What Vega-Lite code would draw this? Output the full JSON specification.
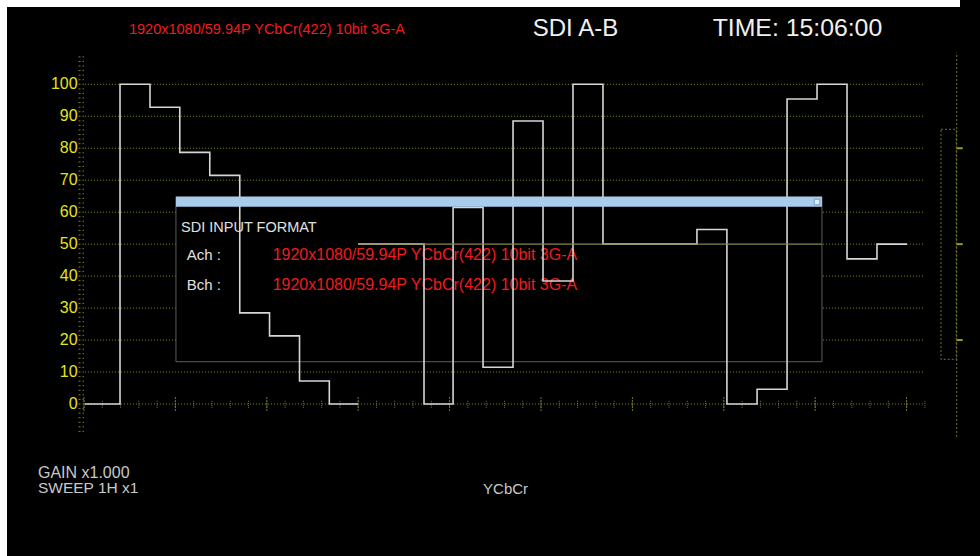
{
  "$schema": "https://vega.github.io/schema/vega-lite/v6.json",
  "width": 973,
  "height": 549,
  "autosize": "none",
  "padding": {"left": 7, "top": 7, "right": 0, "bottom": 0},
  "background": "#ffffff",
  "config": {"view": {"fill": "#000000", "stroke": null}, "font": "Liberation Sans"},
  "datasets": {
    "one": [{}],
    "grid": [0, 10, 20, 30, 40, 50, 60, 70, 80, 90, 100],
    "mv": [-60,-50,-40,-30,-20,-10,0,10,20,30,40,50,60,70,80,90,100,110,120,130,140,150,160,170,180,190,200,210,220,230,240,250,260,270,280,290,300,310,320,330,340,350,360,370,380,390,400,410,420,430,440,450,460,470,480,490,500,510,520,530,540,550,560,570,580,590,600,610,620,630,640,650,660,670,680,690,700,710,720,730,740,750,760],
    "xminor": [0,1,2,3,4,5,6,7,8,9,10,11,12,13,14,15,16,17,18,19,20,21,22,23,24,25,26,27,28,29,30,31,32,33,34,35,36,37,38,39,40,41,42,43,44,45,46],
    "xmajor": [0,5,10,15,20,25,30,35,40,45],
    "rticks": [20, 50, 80],
    "trace": [
      {"u": 0.05, "v": 0, "seg": "Y"},
      {"u": 1.97, "v": 100, "seg": "Y"},
      {"u": 3.61, "v": 92.8, "seg": "Y"},
      {"u": 5.24, "v": 78.7, "seg": "Y"},
      {"u": 6.88, "v": 71.5, "seg": "Y"},
      {"u": 8.52, "v": 28.5, "seg": "Y"},
      {"u": 10.15, "v": 21.3, "seg": "Y"},
      {"u": 11.79, "v": 7.2, "seg": "Y"},
      {"u": 13.42, "v": 0, "seg": "Y"},
      {"u": 14.99, "v": 0, "seg": "Y"},
      {"u": 14.99, "v": 50, "seg": "CbCr"},
      {"u": 18.6, "v": 0, "seg": "CbCr"},
      {"u": 20.19, "v": 61.5, "seg": "CbCr"},
      {"u": 21.83, "v": 11.5, "seg": "CbCr"},
      {"u": 23.47, "v": 88.5, "seg": "CbCr"},
      {"u": 25.11, "v": 38.5, "seg": "CbCr"},
      {"u": 26.75, "v": 100, "seg": "CbCr"},
      {"u": 28.39, "v": 50, "seg": "CbCr"},
      {"u": 33.53, "v": 54.6, "seg": "CbCr"},
      {"u": 35.17, "v": 0, "seg": "CbCr"},
      {"u": 36.82, "v": 4.6, "seg": "CbCr"},
      {"u": 38.46, "v": 95.4, "seg": "CbCr"},
      {"u": 40.1, "v": 100, "seg": "CbCr"},
      {"u": 41.74, "v": 45.4, "seg": "CbCr"},
      {"u": 43.38, "v": 50, "seg": "CbCr"},
      {"u": 45.02, "v": 50, "seg": "CbCr"}
    ]
  },
  "layer": [
    {
      "layer": [
        {
          "data": {"name": "grid"},
          "mark": {"type": "rule", "color": "#8a8a2a", "strokeDash": [1, 2], "strokeWidth": 1},
          "encoding": {
            "y": {"field": "data", "type": "quantitative", "scale": {"domain": [-47.54, 124.18], "nice": false, "zero": false}, "axis": null},
            "x": {"datum": 0.05, "type": "quantitative", "scale": {"domain": [-4.2123, 49.0153], "nice": false, "zero": false}, "axis": null},
            "x2": {"datum": 46}
          }
        },
        {
          "data": {"name": "grid"},
          "mark": {"type": "text", "align": "right", "baseline": "middle", "fontSize": 16, "color": "#e4e41c"},
          "encoding": {
            "y": {"field": "data", "type": "quantitative", "scale": {"domain": [-47.54, 124.18], "nice": false, "zero": false}, "axis": null},
            "x": {"datum": -0.35, "type": "quantitative", "scale": {"domain": [-4.2123, 49.0153], "nice": false, "zero": false}, "axis": null},
            "text": {"field": "data", "type": "quantitative"}
          }
        },
        {
          "data": {"name": "xminor"},
          "mark": {"type": "rule", "color": "#76762c", "strokeDash": [1, 1], "strokeWidth": 1},
          "encoding": {
            "x": {"field": "data", "type": "quantitative", "scale": {"domain": [-4.2123, 49.0153], "nice": false, "zero": false}, "axis": null},
            "y": {"datum": -1.2, "type": "quantitative", "scale": {"domain": [-47.54, 124.18], "nice": false, "zero": false}, "axis": null},
            "y2": {"datum": 1.2}
          }
        },
        {
          "data": {"name": "xmajor"},
          "mark": {"type": "rule", "color": "#76762c", "strokeDash": [2, 1], "strokeWidth": 1},
          "encoding": {
            "x": {"field": "data", "type": "quantitative", "scale": {"domain": [-4.2123, 49.0153], "nice": false, "zero": false}, "axis": null},
            "y": {"datum": -2.2, "type": "quantitative", "scale": {"domain": [-47.54, 124.18], "nice": false, "zero": false}, "axis": null},
            "y2": {"datum": 2.2}
          }
        },
        {
          "data": {"name": "one"},
          "mark": {"type": "rule", "color": "#6e6e30", "strokeDash": [2, 2], "strokeWidth": 1},
          "encoding": {
            "x": {"datum": 47.74, "type": "quantitative", "scale": {"domain": [-4.2123, 49.0153], "nice": false, "zero": false}, "axis": null},
            "y": {"datum": -10.3, "type": "quantitative", "scale": {"domain": [-47.54, 124.18], "nice": false, "zero": false}, "axis": null},
            "y2": {"datum": 109.9}
          }
        },
        {
          "data": {"name": "rticks"},
          "mark": {"type": "rule", "color": "#a09a20", "strokeWidth": 2},
          "encoding": {
            "y": {"field": "data", "type": "quantitative", "scale": {"domain": [-47.54, 124.18], "nice": false, "zero": false}, "axis": null},
            "x": {"datum": 47.74, "type": "quantitative", "scale": {"domain": [-4.2123, 49.0153], "nice": false, "zero": false}, "axis": null},
            "x2": {"datum": 48.07}
          }
        },
        {
          "data": {"name": "one"},
          "mark": {"type": "rect", "fillOpacity": 0, "stroke": "#6e6e45", "strokeDash": [2, 2], "strokeWidth": 1},
          "encoding": {
            "x": {"datum": 46.88, "type": "quantitative", "scale": {"domain": [-4.2123, 49.0153], "nice": false, "zero": false}, "axis": null},
            "x2": {"datum": 47.72},
            "y": {"datum": 85.93, "type": "quantitative", "scale": {"domain": [-47.54, 124.18], "nice": false, "zero": false}, "axis": null},
            "y2": {"datum": 13.98}
          }
        },
        {
          "data": {"name": "one"},
          "mark": {"type": "rect", "fill": "#000000", "stroke": "#5c5c5c", "strokeWidth": 1},
          "encoding": {
            "x": {"datum": 5.03, "type": "quantitative", "scale": {"domain": [-4.2123, 49.0153], "nice": false, "zero": false}, "axis": null},
            "x2": {"datum": 40.37},
            "y": {"datum": 64.84, "type": "quantitative", "scale": {"domain": [-47.54, 124.18], "nice": false, "zero": false}, "axis": null},
            "y2": {"datum": 13.23}
          }
        },
        {
          "data": {"name": "one"},
          "mark": {"type": "text", "align": "left", "baseline": "middle", "fontSize": 14.5, "color": "#e0e0e0"},
          "encoding": {
            "x": {"datum": 5.31, "type": "quantitative", "scale": {"domain": [-4.2123, 49.0153], "nice": false, "zero": false}, "axis": null},
            "y": {"datum": 55.2, "type": "quantitative", "scale": {"domain": [-47.54, 124.18], "nice": false, "zero": false}, "axis": null},
            "text": {"value": "SDI INPUT FORMAT"}
          }
        },
        {
          "data": {"name": "one"},
          "mark": {"type": "text", "align": "left", "baseline": "middle", "fontSize": 15, "color": "#e0e0e0"},
          "encoding": {
            "x": {"datum": 5.62, "type": "quantitative", "scale": {"domain": [-4.2123, 49.0153], "nice": false, "zero": false}, "axis": null},
            "y": {"datum": 46.7, "type": "quantitative", "scale": {"domain": [-47.54, 124.18], "nice": false, "zero": false}, "axis": null},
            "text": {"value": "Ach :"}
          }
        },
        {
          "data": {"name": "one"},
          "mark": {"type": "text", "align": "left", "baseline": "middle", "fontSize": 15, "color": "#e0e0e0"},
          "encoding": {
            "x": {"datum": 5.62, "type": "quantitative", "scale": {"domain": [-4.2123, 49.0153], "nice": false, "zero": false}, "axis": null},
            "y": {"datum": 37.1, "type": "quantitative", "scale": {"domain": [-47.54, 124.18], "nice": false, "zero": false}, "axis": null},
            "text": {"value": "Bch :"}
          }
        },
        {
          "data": {"name": "one"},
          "mark": {"type": "text", "align": "left", "baseline": "middle", "fontSize": 16, "color": "#f01c1c"},
          "encoding": {
            "x": {"datum": 10.32, "type": "quantitative", "scale": {"domain": [-4.2123, 49.0153], "nice": false, "zero": false}, "axis": null},
            "y": {"datum": 46.7, "type": "quantitative", "scale": {"domain": [-47.54, 124.18], "nice": false, "zero": false}, "axis": null},
            "text": {"value": "1920x1080/59.94P YCbCr(422) 10bit 3G-A"}
          }
        },
        {
          "data": {"name": "one"},
          "mark": {"type": "text", "align": "left", "baseline": "middle", "fontSize": 16, "color": "#f01c1c"},
          "encoding": {
            "x": {"datum": 10.32, "type": "quantitative", "scale": {"domain": [-4.2123, 49.0153], "nice": false, "zero": false}, "axis": null},
            "y": {"datum": 37.1, "type": "quantitative", "scale": {"domain": [-47.54, 124.18], "nice": false, "zero": false}, "axis": null},
            "text": {"value": "1920x1080/59.94P YCbCr(422) 10bit 3G-A"}
          }
        },
        {
          "data": {"name": "trace"},
          "mark": {"type": "line", "interpolate": "step-after", "color": "#d6d6d6", "strokeWidth": 1.6},
          "encoding": {
            "x": {"field": "u", "type": "quantitative", "scale": {"domain": [-4.2123, 49.0153], "nice": false, "zero": false}, "axis": null},
            "y": {"field": "v", "type": "quantitative", "scale": {"domain": [-47.54, 124.18], "nice": false, "zero": false}, "axis": null},
            "detail": {"field": "seg", "type": "nominal"}
          }
        },
        {
          "data": {"name": "one"},
          "mark": {"type": "rule", "color": "#86864a", "strokeWidth": 1.3},
          "encoding": {
            "x": {"datum": 14.99, "type": "quantitative", "scale": {"domain": [-4.2123, 49.0153], "nice": false, "zero": false}, "axis": null},
            "x2": {"datum": 40.37},
            "y": {"datum": 50, "type": "quantitative", "scale": {"domain": [-47.54, 124.18], "nice": false, "zero": false}, "axis": null}
          }
        },
        {
          "data": {"name": "one"},
          "mark": {"type": "rect", "fill": "#a8ccee"},
          "encoding": {
            "x": {"datum": 5.03, "type": "quantitative", "scale": {"domain": [-4.2123, 49.0153], "nice": false, "zero": false}, "axis": null},
            "x2": {"datum": 40.37},
            "y": {"datum": 64.84, "type": "quantitative", "scale": {"domain": [-47.54, 124.18], "nice": false, "zero": false}, "axis": null},
            "y2": {"datum": 61.71}
          }
        },
        {
          "data": {"name": "one"},
          "mark": {"type": "point", "shape": "square", "filled": true, "size": 30, "fill": "#ffffff", "stroke": "#7fa6cc", "strokeWidth": 1.5},
          "encoding": {
            "x": {"datum": 40.1, "type": "quantitative", "scale": {"domain": [-4.2123, 49.0153], "nice": false, "zero": false}, "axis": null},
            "y": {"datum": 63.2, "type": "quantitative", "scale": {"domain": [-47.54, 124.18], "nice": false, "zero": false}, "axis": null}
          }
        },
        {
          "data": {"name": "one"},
          "mark": {"type": "rect", "fill": "#000000"},
          "encoding": {
            "x": {"datum": 47.92, "type": "quantitative", "scale": {"domain": [-4.2123, 49.0153], "nice": false, "zero": false}, "axis": null},
            "x2": {"datum": 49.1},
            "y": {"datum": 124.18, "type": "quantitative", "scale": {"domain": [-47.54, 124.18], "nice": false, "zero": false}, "axis": null},
            "y2": {"datum": 126.5}
          }
        },
        {
          "data": {"name": "one"},
          "mark": {"type": "text", "align": "left", "baseline": "middle", "fontSize": 14.5, "color": "#f01c1c"},
          "encoding": {
            "x": {"datum": 2.46, "type": "quantitative", "scale": {"domain": [-4.2123, 49.0153], "nice": false, "zero": false}, "axis": null},
            "y": {"datum": 117.0, "type": "quantitative", "scale": {"domain": [-47.54, 124.18], "nice": false, "zero": false}, "axis": null},
            "text": {"value": "1920x1080/59.94P YCbCr(422) 10bit 3G-A"}
          }
        },
        {
          "data": {"name": "one"},
          "mark": {"type": "text", "align": "left", "baseline": "middle", "fontSize": 24, "color": "#f0f0f0"},
          "encoding": {
            "x": {"datum": 24.55, "type": "quantitative", "scale": {"domain": [-4.2123, 49.0153], "nice": false, "zero": false}, "axis": null},
            "y": {"datum": 117.3, "type": "quantitative", "scale": {"domain": [-47.54, 124.18], "nice": false, "zero": false}, "axis": null},
            "text": {"value": "SDI A-B"}
          }
        },
        {
          "data": {"name": "one"},
          "mark": {"type": "text", "align": "left", "baseline": "middle", "fontSize": 24.8, "color": "#f0f0f0"},
          "encoding": {
            "x": {"datum": 34.39, "type": "quantitative", "scale": {"domain": [-4.2123, 49.0153], "nice": false, "zero": false}, "axis": null},
            "y": {"datum": 117.3, "type": "quantitative", "scale": {"domain": [-47.54, 124.18], "nice": false, "zero": false}, "axis": null},
            "text": {"value": "TIME: 15:06:00"}
          }
        },
        {
          "data": {"name": "one"},
          "mark": {"type": "text", "align": "left", "baseline": "middle", "fontSize": 16, "color": "#c8c8c8"},
          "encoding": {
            "x": {"datum": -2.52, "type": "quantitative", "scale": {"domain": [-4.2123, 49.0153], "nice": false, "zero": false}, "axis": null},
            "y": {"datum": -21.5, "type": "quantitative", "scale": {"domain": [-47.54, 124.18], "nice": false, "zero": false}, "axis": null},
            "text": {"value": "GAIN  x1.000"}
          }
        },
        {
          "data": {"name": "one"},
          "mark": {"type": "text", "align": "left", "baseline": "middle", "fontSize": 15.5, "color": "#c8c8c8"},
          "encoding": {
            "x": {"datum": -2.52, "type": "quantitative", "scale": {"domain": [-4.2123, 49.0153], "nice": false, "zero": false}, "axis": null},
            "y": {"datum": -26.2, "type": "quantitative", "scale": {"domain": [-47.54, 124.18], "nice": false, "zero": false}, "axis": null},
            "text": {"value": "SWEEP 1H x1"}
          }
        },
        {
          "data": {"name": "one"},
          "mark": {"type": "text", "align": "left", "baseline": "middle", "fontSize": 15, "color": "#c8c8c8"},
          "encoding": {
            "x": {"datum": 21.83, "type": "quantitative", "scale": {"domain": [-4.2123, 49.0153], "nice": false, "zero": false}, "axis": null},
            "y": {"datum": -26.7, "type": "quantitative", "scale": {"domain": [-47.54, 124.18], "nice": false, "zero": false}, "axis": null},
            "text": {"value": "YCbCr"}
          }
        }
      ]
    },
    {
      "data": {"name": "mv"},
      "mark": {"type": "rule", "color": "#7a7a30", "strokeDash": [2, 2], "strokeWidth": 1},
      "encoding": {
        "y": {"field": "data", "type": "quantitative", "scale": {"domain": [-332.8, 869.26], "nice": false, "zero": false}, "axis": null},
        "x": {"datum": -0.3, "type": "quantitative", "scale": {"domain": [-4.2123, 49.0153], "nice": false, "zero": false}, "axis": null},
        "x2": {"datum": 0}
      }
    }
  ],
  "resolve": {"scale": {"y": "independent"}}
}
